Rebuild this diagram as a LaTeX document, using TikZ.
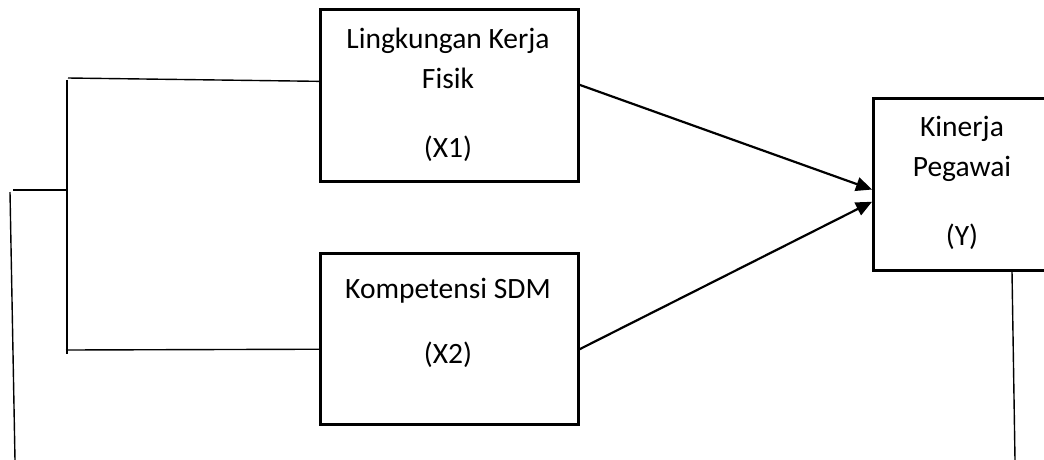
\documentclass[tikz,border=0pt]{standalone}
\usepackage{fontspec}
\setmainfont{Carlito}
\usetikzlibrary{calc,arrows.meta}
\begin{document}
\begin{tikzpicture}[x=1pt,y=-1pt,
  box/.style={draw,line width=2.6pt,minimum width=258pt,inner sep=0pt},
  lbl/.style={anchor=base,inner sep=0pt,font=\fontsize{29.5}{34}\selectfont},
  thin/.style={line width=1.4pt},
  arr/.style={line width=2.2pt,-{Triangle[length=16pt,width=14pt]}}]
\useasboundingbox (0,0) rectangle (1044,459);
% variable boxes
\node[box,minimum height=172pt,anchor=north west] (x1) at (319,8) {};
\node[box,minimum height=171pt,anchor=north west] (x2) at (319,252) {};
\node[box,minimum width=180pt,minimum height=172pt,anchor=north west] (y) at (872,97) {};
% labels
\node[lbl] (x1a) at (448,48) {Lingkungan Kerja};
\node[lbl] (x1b) at (448,88) {Fisik};
\node[lbl] (x1c) at (448,157) {(X1)};
\node[lbl] (x2a) at (448,298) {Kompetensi SDM};
\node[lbl] (x2b) at (448,363) {(X2)};
\node[lbl] (ya) at (962,136) {Kinerja};
\node[lbl] (yb) at (962,176) {Pegawai};
\node[lbl] (yc) at (962,245) {(Y)};
% arrows into Y
\draw[arr] ($(x1.north east)!0.44!(x1.south east)$) -- ($(y.north west)!0.53!(y.south west)$);
\draw[arr] ($(x2.north east)!0.56!(x2.south east)$) -- ($(y.north west)!0.60!(y.south west)$);
% bracket on the left
\coordinate (bt) at (68,78);
\coordinate (bb) at (66,350);
\coordinate (vt) at (67,80);
\coordinate (vb) at (67,354);
\coordinate (mid) at (67,190);
\coordinate (stub) at (13,190);
\coordinate (lt) at (10,192);
\coordinate (lb) at (15,460);
\draw[thin] (bt) -- ($(x1.north west)!0.42!(x1.south west)$);
\draw[thin] (bb) -- ($(x2.north west)!0.56!(x2.south west)$);
\draw[line width=1.8pt] (vt) -- (vb);
\draw[line width=1.8pt] (stub) -- (mid);
\draw[thin] (lt) -- (lb);
% line below Y
\coordinate (rb) at (1015,460);
\draw[thin] ($(y.south west)+(140,0)$) -- (rb);
\end{tikzpicture}
\end{document}
